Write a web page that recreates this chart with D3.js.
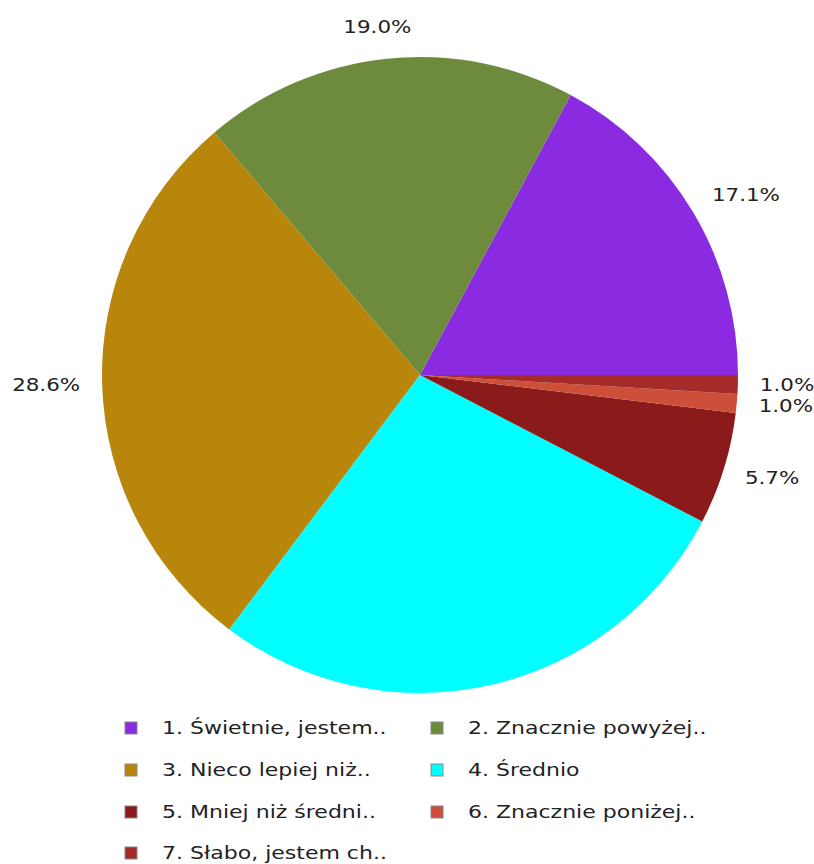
<!DOCTYPE html>
<html><head><meta charset="utf-8">
<script src="https://cdn.jsdelivr.net/npm/d3@7"></script>
<style>body{margin:0;background:#fff}text{font-family:"DejaVu Sans",sans-serif;fill:#222}</style>
</head><body><svg id="c" width="814" height="864"></svg>
<script>
const categories = ["1. Świetnie, jestem..","2. Znacznie powyżej..","3. Nieco lepiej niż..","4. Średnio","5. Mniej niż średni..","6. Znacznie poniżej..","7. Słabo, jestem ch.."];
const counts = [18,20,30,29,6,1,1];
const labels = ["17.1%","19.0%","28.6%","","5.7%","1.0%","1.0%"];
const colors = ["#8A2BE2","#6E8B3D","#B8860B","#00FFFF","#8B1A1A","#CD4F39","#A52A2A"];

const svg = d3.select("#c");
const cx = 420, cy = 375, R = 318;
const SX = 1.19;
const pie = d3.pie().sort(null).value(d=>d)
  .startAngle(Math.PI/2).endAngle(Math.PI/2 - 2*Math.PI);
const arcs = pie(counts);
const arc = d3.arc().innerRadius(0).outerRadius(R);
const g = svg.append("g").attr("transform",`translate(${cx},${cy})`);
g.selectAll("path").data(arcs).join("path")
  .attr("d",arc).attr("fill",(d,i)=>colors[i]);

const fs = 18;
arcs.forEach((d,i)=>{
  if(!labels[i]) return;
  const mid = (d.startAngle+d.endAngle)/2;
  const math = Math.PI/2 - mid;
  const c = Math.cos(math), s = Math.sin(math);
  const px = cx + 340*c, py = cy - 350*s;
  const t = svg.append("text").attr("font-size",fs).attr("text-anchor","middle")
    .attr("dominant-baseline","central").text(labels[i]);
  const w = t.node().getComputedTextLength()*SX;
  const k = Math.max(-1,Math.min(1,2*c));
  t.attr("transform",`translate(${px + w/2*k},${py}) scale(${SX},1)`);
});

const lg = svg.append("g");
const colX = [131,437], rowY = [728,770,812,853];
categories.forEach((name,i)=>{
  const x = colX[i%2], y = rowY[Math.floor(i/2)];
  lg.append("rect").attr("x",x-6).attr("y",y-6).attr("width",12).attr("height",12)
    .attr("fill",colors[i]).attr("stroke","#888").attr("stroke-width",1);
  lg.append("text").attr("transform",`translate(${x+31},${y}) scale(${SX},1)`)
    .attr("dominant-baseline","central").attr("font-size",fs+0.5).text(name);
});
</script></body></html>
